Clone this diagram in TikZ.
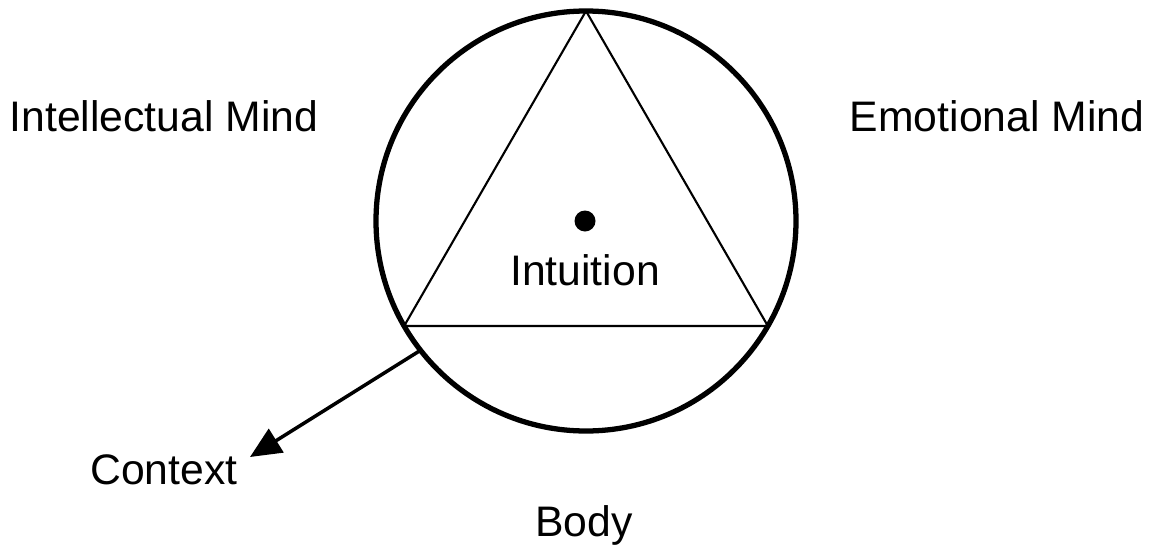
\documentclass[tikz,border=0pt]{standalone}
\usepackage{fontspec}
\setmainfont{Liberation Sans}
\usetikzlibrary{arrows.meta}
\tikzset{lbl/.style={font=\fontsize{24.3}{29}\selectfont,anchor=base},ring/.style={draw,circle,line width=3pt,minimum size=420*0.02cm,inner sep=0pt,outer sep=0pt},arr/.style={-{Triangle[length=0.62cm,width=0.55cm]},line width=2pt}}

\begin{document}
\begin{tikzpicture}[x=0.02cm,y=-0.02cm]
\useasboundingbox (0,0) rectangle (1153,548);
\node[ring] (ring) at (586,221) {};
\draw[line width=1.2pt,line join=miter] (ring.90)--(ring.210)--(ring.330)--cycle;
\node[circle,fill,minimum size=21*0.02cm,inner sep=0pt] (core) at (585,221) {};
\node[lbl] (intu) at (585,285) {Intuition};
\node[lbl] (intel) at (164,131) {Intellectual Mind};
\node[lbl] (emo) at (997,131) {Emotional Mind};
\node[lbl] (body) at (584,536) {Body};
\node[lbl] (ctx) at (164,484) {Context};
\draw[arr] (ring.218) -- (250,457);
\end{tikzpicture}
\end{document}
